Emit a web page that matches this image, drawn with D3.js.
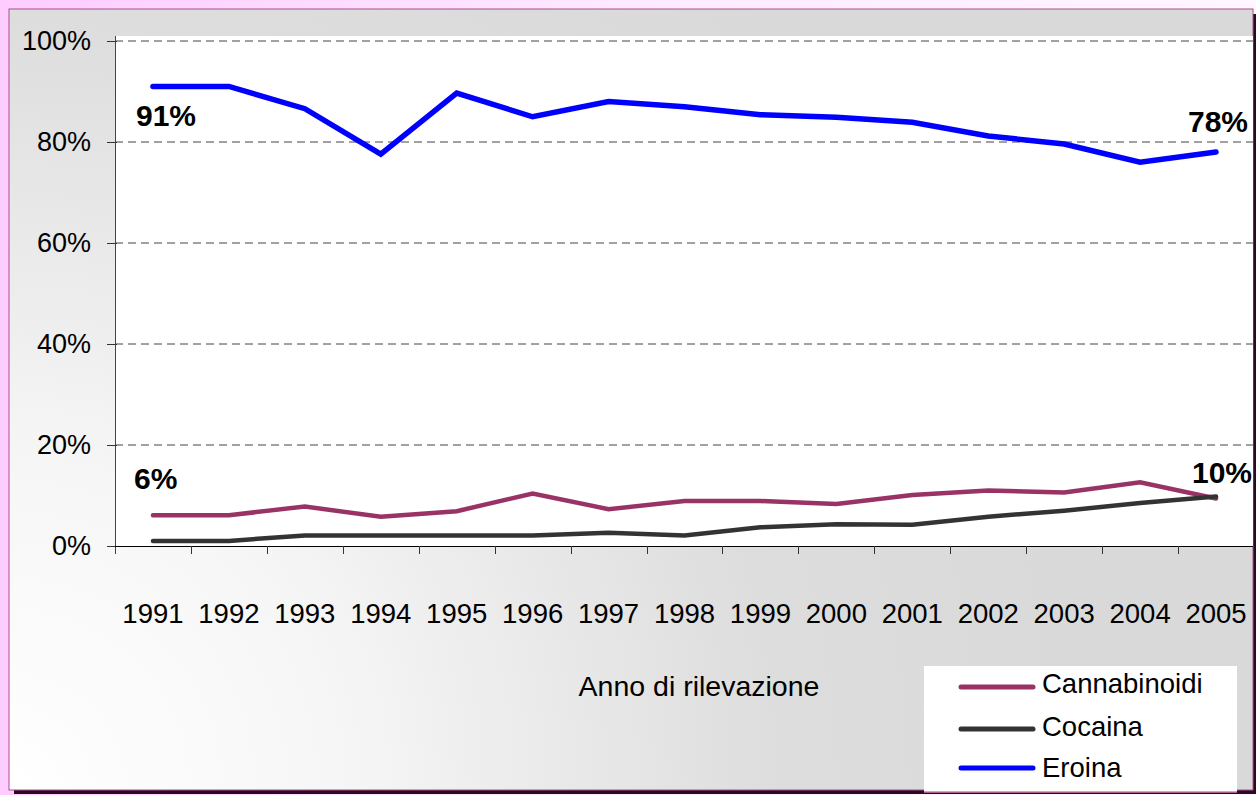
<!DOCTYPE html>
<html><head><meta charset="utf-8">
<script src="https://cdn.jsdelivr.net/npm/d3@7"></script>
<style>body{margin:0;padding:0;overflow:hidden;background:#fff}svg{display:block}text{font-family:"Liberation Sans",Arial,sans-serif}</style>
</head><body>
<script>
const years = ["1991","1992","1993","1994","1995","1996","1997","1998","1999","2000","2001","2002","2003","2004","2005"];
const cannabinoidi = [6.1,6.1,7.8,5.8,6.9,10.4,7.3,8.9,8.9,8.3,10.1,11.0,10.6,12.6,9.4];
const cocaina = [1.0,1.0,2.1,2.1,2.1,2.1,2.6,2.1,3.7,4.3,4.2,5.8,7.0,8.5,9.8];
const eroina = [91,91,86.6,77.6,89.7,85,88,87,85.4,84.9,83.9,81.2,79.6,76,78];
const seriesNames = ["Cannabinoidi","Cocaina","Eroina"];
const seriesColors = ["#993366","#333333","#0000FF"];
const yTicks = [0,20,40,60,80,100];
const annotations = [
  {series:2, idx:0, text:"91%"},
  {series:2, idx:14, text:"78%"},
  {series:0, idx:0, text:"6%"},
  {series:1, idx:14, text:"10%"}
];
const allSeries = [cannabinoidi, cocaina, eroina];

const W=1256,H=795;
const svg=d3.select("body").append("svg").attr("width",W).attr("height",H);
const defs=svg.append("defs");
const bg=defs.append("linearGradient").attr("id","bgpink").attr("x1","0").attr("x2","1").attr("y1","0").attr("y2","0");
bg.append("stop").attr("offset","0").attr("stop-color","#FFCCFF");
bg.append("stop").attr("offset","0.5").attr("stop-color","#FFEAFF");
bg.append("stop").attr("offset","1").attr("stop-color","#FFF6FF");
const rg=defs.append("radialGradient").attr("id","frameFill").attr("gradientUnits","userSpaceOnUse")
  .attr("cx",10).attr("cy",790).attr("r",1100);
rg.append("stop").attr("offset","0").attr("stop-color","#FFFFFF");
rg.append("stop").attr("offset","0.3").attr("stop-color","#F6F6F6");
rg.append("stop").attr("offset","0.7").attr("stop-color","#DDDDDD");
rg.append("stop").attr("offset","1").attr("stop-color","#D9D9D9");

svg.append("rect").attr("width",W).attr("height",H).attr("fill","url(#bgpink)");
// frame shadow
svg.append("rect").attr("x",14).attr("y",14).attr("width",1242).attr("height",780).attr("fill","#2A0A20");
svg.append("rect").attr("x",9).attr("y",9).attr("width",1244).attr("height",781).attr("fill","url(#frameFill)")
  .attr("stroke","#A8508A").attr("stroke-width",1);

const m={l:115,r:1254,t:41,b:546};
const x=d3.scaleBand().domain(years).range([m.l,m.r]).padding(0);
const y=d3.scaleLinear().domain([0,100]).range([m.b,m.t]);

// plot area
svg.append("rect").attr("x",m.l).attr("y",36).attr("width",m.r-m.l-1).attr("height",m.b-36).attr("fill","#fff");

// gridlines
svg.append("g").selectAll("line").data(yTicks.filter(d=>d>0)).join("line")
  .attr("x1",m.l).attr("x2",m.r-1).attr("y1",d=>y(d)).attr("y2",d=>y(d))
  .attr("stroke","#444").attr("stroke-width",1).attr("stroke-dasharray","8,5");

// y axis
const yAxis=svg.append("g").attr("transform",`translate(${m.l},0)`)
  .call(d3.axisLeft(y).tickValues(yTicks).tickFormat(d=>d+"%").tickSizeInner(8).tickSizeOuter(0).tickPadding(16));
yAxis.select(".domain").remove();
yAxis.selectAll(".tick line").attr("x1",2).attr("x2",-8).attr("stroke","#333");
yAxis.selectAll("text").attr("font-size",27).attr("fill","#000").style("font-family","'Liberation Sans',Arial,sans-serif");
svg.append("line").attr("x1",m.l+0.5).attr("x2",m.l+0.5).attr("y1",36).attr("y2",m.b+8).attr("stroke","#444");

// x axis
const xAxis=svg.append("g").attr("transform",`translate(0,${m.b})`)
  .call(d3.axisBottom(x).tickSize(0).tickPadding(57));
xAxis.select(".domain").attr("d",`M${m.l},0.5H${m.r-1}`).attr("stroke","#000");
xAxis.selectAll("text").attr("font-size",27.5).attr("fill","#000").style("font-family","'Liberation Sans',Arial,sans-serif");
svg.append("g").selectAll("line").data(years.slice(1)).join("line")
  .attr("x1",d=>Math.round(x(d))+0.5).attr("x2",d=>Math.round(x(d))+0.5)
  .attr("y1",m.b).attr("y2",m.b+8).attr("stroke","#333");

svg.append("text").attr("x",699).attr("y",696).attr("text-anchor","middle").attr("font-size",28.5).text("Anno di rilevazione");

// lines
const line=d3.line().x((d,i)=>x(years[i])+x.bandwidth()/2).y(d=>y(d));
const widths=[4.5,4.5,5.5];
allSeries.forEach((s,k)=>{
  svg.append("path").datum(s).attr("d",line).attr("fill","none")
    .attr("stroke",seriesColors[k]).attr("stroke-width",widths[k]).attr("stroke-linecap","round");
});

// annotations
const annPos={"91%":{x:136,y:126,a:"start"},"78%":{x:1248,y:132,a:"end"},"6%":{x:134,y:489,a:"start"},"10%":{x:1252,y:483,a:"end"}};
svg.append("g").selectAll("text").data(annotations).join("text")
  .attr("x",d=>annPos[d.text].x).attr("y",d=>annPos[d.text].y).attr("text-anchor",d=>annPos[d.text].a)
  .attr("font-size",30).attr("font-weight","bold").text(d=>d.text);

// legend
const lg=svg.append("g");
lg.append("rect").attr("x",924).attr("y",666).attr("width",313).attr("height",126).attr("fill","#fff");
lg.append("line").attr("x1",924).attr("x2",1237).attr("y1",792).attr("y2",792).attr("stroke","#D080A8").attr("stroke-width",1.5);
const ly=[687,729,768];
const lb=[693,736,777];
seriesNames.forEach((n,i)=>{
  lg.append("line").attr("x1",961).attr("x2",1033).attr("y1",ly[i]).attr("y2",ly[i])
    .attr("stroke",seriesColors[i]).attr("stroke-width",5).attr("stroke-linecap","round");
  lg.append("text").attr("x",1042).attr("y",lb[i]).attr("font-size",27.5).text(n);
});
</script>
</body></html>
